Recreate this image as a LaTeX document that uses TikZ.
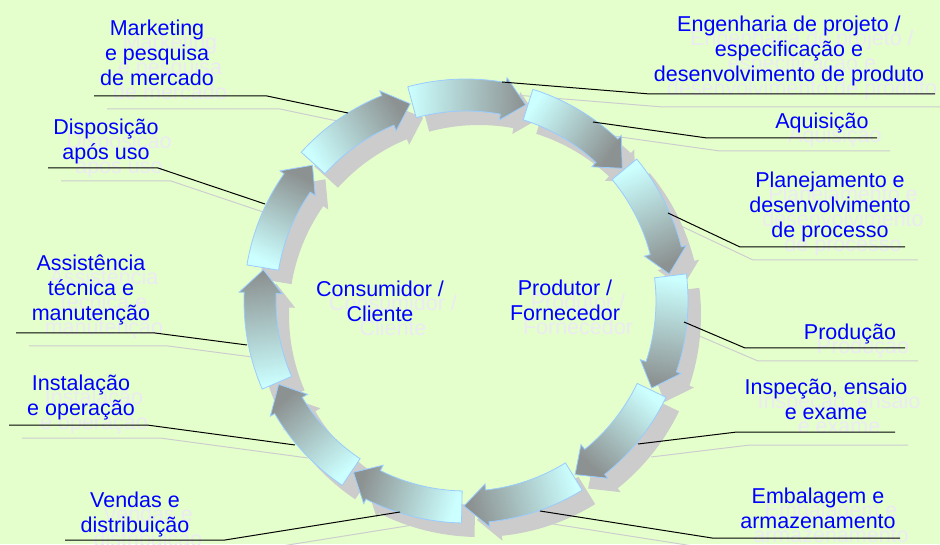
\documentclass[tikz,border=0pt]{standalone}
\usepackage{fontspec}
\setmainfont{Liberation Sans}
\definecolor{bg}{RGB}{229,255,204}
\definecolor{txt}{RGB}{0,0,255}
\definecolor{txtsh}{RGB}{236,234,245}
\definecolor{arrshadow}{RGB}{204,204,204}
\definecolor{arrtail}{RGB}{204,255,255}
\definecolor{arrhead}{RGB}{140,145,145}
\definecolor{arrborder}{RGB}{153,204,255}
\definecolor{leadsh}{RGB}{205,205,208}
\tikzset{
  lbl/.style={align=center, inner sep=0pt, font=\fontsize{21.5}{25}\selectfont, text=txt},
  lblsh/.style={lbl, text=txtsh},
  leader/.style={draw=black, line width=1pt},
  leadersh/.style={draw=leadsh, line width=1pt, transform canvas={shift={(13,-13)}}},
  arrowbody/.style={draw=arrborder, line width=0.8pt, top color=arrhead, bottom color=arrtail},
  arrowshadow/.style={fill=arrshadow},
}
\begin{document}
\begin{tikzpicture}[x=1pt,y=1pt]
\fill[bg] (0,0) rectangle (940,544);
\useasboundingbox (0,0) rectangle (940,544);
\clip (0,0) rectangle (940,544);

\def\labellist{mk/{(157,490.75)}/{Marketing\\e pesquisa\\de mercado},
  eng/{(789,492.75)}/{Engenharia de projeto /\\especificação e\\desenvolvimento de produto},
  aq/{(822,420.75)}/{Aquisição},
  pl/{(830,336.75)}/{Planejamento e\\desenvolvimento\\de processo},
  pr/{(850,209.75)}/{Produção},
  ins/{(826,144.25)}/{Inspeção, ensaio\\e exame},
  em/{(818,35.75)}/{Embalagem e\\armazenamento},
  ve/{(135,29.25)}/{Vendas e\\distribuição},
  is/{(81,146.25)}/{Instalação\\e operação},
  as/{(91,253.75)}/{Assistência\\técnica e\\manutenção},
  di/{(106,402.25)}/{Disposição\\após uso},
  co/{(380,242.25)}/{Consumidor /\\Cliente},
  po/{(565,243.25)}/{Produtor /\\Fornecedor}}

% text shadows
\foreach \n/\p/\t in \labellist {
  \node[lblsh, xshift=13pt, yshift=-14pt] (\n-sh) at \p {\t};
}

% leader end points
\coordinate (mk-l1) at (94,448);   \coordinate (mk-l2) at (267,448);  \coordinate (mk-l3) at (348,431);
\coordinate (eng-l1) at (935,450); \coordinate (eng-l2) at (650,450); \coordinate (eng-l3) at (502,462);
\coordinate (aq-l1) at (877,406);  \coordinate (aq-l2) at (707,406);  \coordinate (aq-l3) at (593,422);
\coordinate (pl-l1) at (905,297);  \coordinate (pl-l2) at (740,297);  \coordinate (pl-l3) at (668,331);
\coordinate (pr-l1) at (905,196);  \coordinate (pr-l2) at (745,196);  \coordinate (pr-l3) at (684,222);
\coordinate (ins-l1) at (895,112); \coordinate (ins-l2) at (737,112); \coordinate (ins-l3) at (638,100);
\coordinate (em-l1) at (900,6);    \coordinate (em-l2) at (712,6);    \coordinate (em-l3) at (540,33);
\coordinate (ve-l1) at (65,4);     \coordinate (ve-l2) at (225,4);    \coordinate (ve-l3) at (400,32);
\coordinate (is-l1) at (9,119);    \coordinate (is-l2) at (147,119);  \coordinate (is-l3) at (295,99);
\coordinate (as-l1) at (16,211);   \coordinate (as-l2) at (155,211);  \coordinate (as-l3) at (247,199);
\coordinate (di-l1) at (48,376);   \coordinate (di-l2) at (158,376);  \coordinate (di-l3) at (265,340);

% leader shadows
\foreach \n in {mk,eng,aq,pl,pr,ins,em,ve,is,as,di} {
  \draw[leadersh] (\n-l1) -- (\n-l2) -- (\n-l3);
}

% ring of arrows
\begin{scope}[shift={(466,243)}]
  \foreach \k in {0,...,10} {
    \pgfmathsetmacro\tA{105.2-32.727*\k}
    \pgfmathsetmacro\tipA{\tA-32.127}
    \pgfmathsetmacro\hB{\tipA+6.5}
    \fill[arrowshadow, shift={(13,-14)}] (\tA:222pt) arc[start angle=\tA, end angle=\hB, radius=222pt]
      -- (\hB:227pt) -- (\tipA:205pt) -- (\hB:184pt) -- (\hB:190pt)
      arc[start angle=\hB, end angle=\tA, radius=190pt] -- cycle;
  }
  \foreach \k in {0,...,10} {
    \pgfmathsetmacro\tA{105.2-32.727*\k}
    \pgfmathsetmacro\tipA{\tA-32.127}
    \pgfmathsetmacro\hB{\tipA+6.5}
    \pgfmathsetmacro\sA{\tA-16.36-180}
    \path[arrowbody, shading angle=\sA] (\tA:222pt) arc[start angle=\tA, end angle=\hB, radius=222pt]
      -- (\hB:227pt) -- (\tipA:205pt) -- (\hB:184pt) -- (\hB:190pt)
      arc[start angle=\hB, end angle=\tA, radius=190pt] -- cycle;
  }
\end{scope}

% leaders
\foreach \n in {mk,eng,aq,pl,pr,ins,em,ve,is,as,di} {
  \draw[leader] (\n-l1) -- (\n-l2) -- (\n-l3);
}

% labels
\foreach \n/\p/\t in \labellist {
  \node[lbl] (\n) at \p {\t};
}
\end{tikzpicture}
\end{document}
